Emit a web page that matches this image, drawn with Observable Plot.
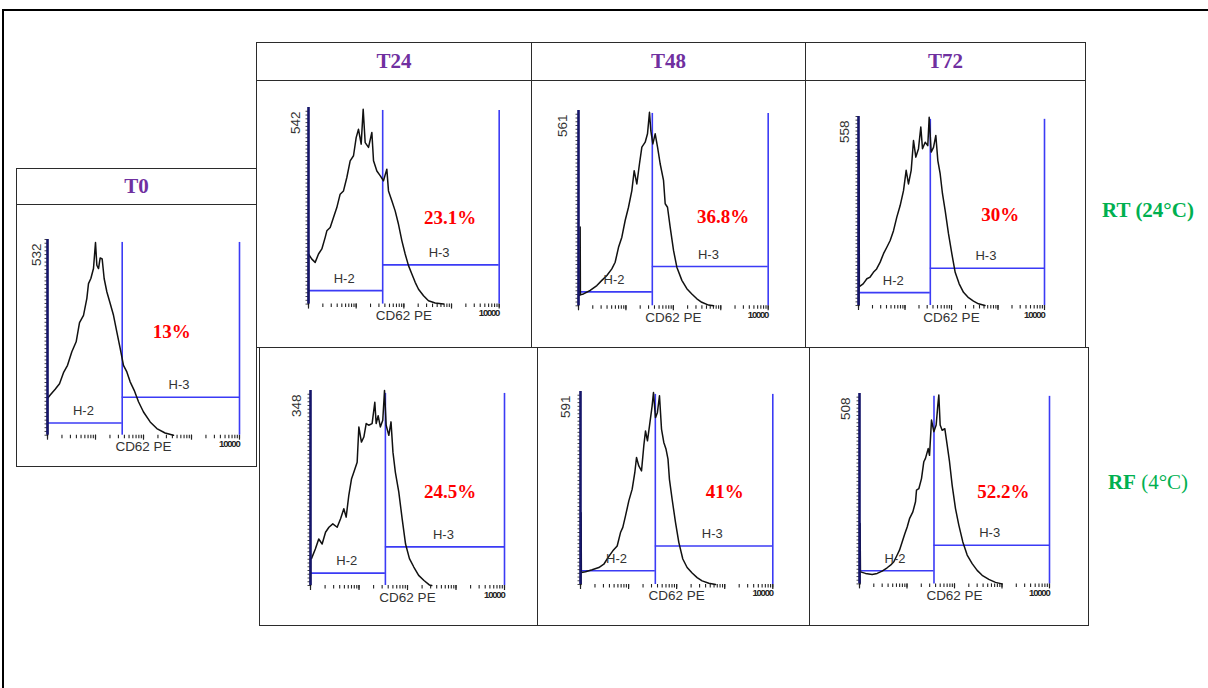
<!DOCTYPE html>
<html><head><meta charset="utf-8">
<script src="https://cdn.jsdelivr.net/npm/d3@7"></script>
<script src="https://cdn.jsdelivr.net/npm/@observablehq/plot@0.6"></script>
<style>
body{margin:0;background:#fff;}
#page{position:relative;width:1208px;height:688px;overflow:hidden;background:#fff;}
.box{position:absolute;border:1px solid #2b2b2b;box-sizing:border-box;}
.hdr{position:absolute;display:flex;align-items:center;justify-content:center;font-family:"Liberation Serif","Times New Roman",serif;font-weight:bold;font-size:21px;color:#7030A0;}
.rowlab{position:absolute;font-family:"Liberation Serif","Times New Roman",serif;font-size:21px;color:#00B050;white-space:nowrap;transform:translate(-50%,-50%);}
.panel{position:absolute;}
</style></head>
<body><div id="page"></div>
<script>
// ---------- data ----------
const timeHeaders = ["T24", "T48", "T72"];
const conditionLabels = [["RT", " (24°C)"], ["RF", " (4°C)"]];
const panelNames = ["T0", "RT T24", "RT T48", "RT T72", "RF T24", "RF T48", "RF T72"];
const maxCounts = [532, 542, 561, 558, 348, 591, 508];
const pctH3 = ["13%", "23.1%", "36.8%", "30%", "24.5%", "41%", "52.2%"];
const gateEdge = [36, 36, 36, 35, 35, 36, 37];      // H-2 / H-3 boundary (CD62 PE)
const h2Level = [33, 37, 40, 38, 22, 42, 35];       // marker bar heights (counts)
const h3Level = [103, 108, 113, 110, 69, 118, 103];
const xAxisLabel = "CD62 PE";
const xMaxLabel = "10000";

// histogram curves: [log10(CD62 PE), count]
const curveT0 = [[0,0],[0,100],[0.056,109],[0.16,125],[0.25,140],[0.333,170],[0.417,190],[0.507,227],[0.597,254],[0.667,306],[0.75,326],[0.82,372],[0.854,412],[0.903,426],[0.958,453],[1.0,524],[1.028,462],[1.063,453],[1.097,482],[1.139,479],[1.18,426],[1.236,390],[1.306,358],[1.375,326],[1.444,281],[1.514,236],[1.583,190],[1.653,172],[1.722,145],[1.806,122],[1.896,91],[2.0,63],[2.139,36],[2.278,18],[2.45,6],[2.625,0]];
const curveRT24 = [[0,0],[0,138],[0.07,124],[0.14,115],[0.21,138],[0.28,152],[0.35,184],[0.385,202],[0.455,211],[0.524,239],[0.594,266],[0.664,303],[0.734,312],[0.804,349],[0.874,395],[0.944,409],[1.0,459],[1.049,482],[1.105,441],[1.147,537],[1.189,445],[1.259,432],[1.329,473],[1.364,395],[1.434,367],[1.503,354],[1.573,340],[1.643,372],[1.678,312],[1.748,285],[1.818,257],[1.888,220],[1.958,175],[2.028,138],[2.098,106],[2.168,83],[2.238,60],[2.308,41],[2.413,23],[2.517,9],[2.657,3],[2.832,0]];
const curveRT48 = [[0,0],[0,30],[0.03,30],[0.035,226],[0.04,32],[0.105,34],[0.246,44],[0.387,58],[0.492,73],[0.598,87],[0.703,106],[0.773,125],[0.844,168],[0.914,197],[0.984,245],[1.054,283],[1.125,331],[1.174,388],[1.23,350],[1.286,408],[1.336,456],[1.406,470],[1.455,494],[1.497,556],[1.525,503],[1.568,465],[1.617,494],[1.667,456],[1.722,408],[1.793,360],[1.828,293],[1.877,283],[1.933,226],[2.004,159],[2.074,111],[2.18,73],[2.285,49],[2.39,34],[2.496,20],[2.6,10],[2.742,2],[2.85,0]];
const curveRT72 = [[0.01,0],[0.012,458],[0.018,56],[0.1,64],[0.18,79],[0.25,84],[0.32,98],[0.39,108],[0.466,128],[0.538,153],[0.609,172],[0.681,192],[0.753,221],[0.824,261],[0.896,295],[0.968,339],[1.025,399],[1.075,359],[1.133,399],[1.183,487],[1.233,438],[1.29,463],[1.34,527],[1.376,463],[1.434,482],[1.49,472],[1.52,556],[1.563,453],[1.613,467],[1.663,502],[1.706,428],[1.756,389],[1.806,330],[1.864,280],[1.935,212],[2.007,153],[2.079,98],[2.165,64],[2.258,39],[2.366,23],[2.473,13],[2.58,5],[2.72,0]];
const curveRF24 = [[0,0],[0,48],[0.02,48],[0.1,65],[0.17,83],[0.24,74],[0.31,95],[0.38,104],[0.46,110],[0.55,104],[0.62,119],[0.687,137],[0.735,122],[0.79,161],[0.845,190],[0.893,202],[0.962,220],[0.997,283],[1.05,256],[1.1,265],[1.148,289],[1.2,286],[1.27,289],[1.326,327],[1.354,289],[1.395,303],[1.44,283],[1.49,295],[1.526,348],[1.56,286],[1.615,268],[1.66,292],[1.7,238],[1.75,202],[1.82,167],[1.89,119],[1.96,74],[2.04,48],[2.13,33],[2.23,18],[2.34,9],[2.45,1],[2.5,0]];
const curveRF48 = [[0.01,0],[0.012,220],[0.018,37],[0.104,39],[0.243,45],[0.381,52],[0.485,62],[0.575,83],[0.672,103],[0.763,118],[0.832,159],[0.88,175],[0.936,210],[1.005,256],[1.075,292],[1.13,343],[1.165,389],[1.213,363],[1.269,348],[1.317,425],[1.352,470],[1.393,440],[1.435,486],[1.49,547],[1.518,588],[1.56,511],[1.6,527],[1.643,578],[1.685,476],[1.733,435],[1.78,414],[1.82,384],[1.85,322],[1.906,261],[1.976,190],[2.045,129],[2.128,78],[2.218,52],[2.322,35],[2.426,21],[2.53,11],[2.67,4],[2.81,0]];
const curveRF72 = [[0.01,0],[0.012,161],[0.02,32],[0.126,28],[0.267,25],[0.372,28],[0.477,34],[0.582,43],[0.653,50],[0.723,59],[0.793,77],[0.842,90],[0.898,112],[0.954,134],[1.004,152],[1.053,174],[1.123,192],[1.179,219],[1.2,250],[1.249,254],[1.305,281],[1.354,326],[1.389,335],[1.446,361],[1.474,343],[1.516,437],[1.565,406],[1.614,424],[1.649,477],[1.67,504],[1.698,424],[1.74,410],[1.796,414],[1.846,370],[1.895,326],[1.951,263],[2.021,201],[2.091,157],[2.175,112],[2.267,77],[2.372,54],[2.477,36],[2.582,23],[2.723,12],[2.863,4],[3.0,0]];
const curves = [curveT0, curveRT24, curveRT48, curveRT72, curveRF24, curveRF48, curveRF72];

// ---------- layout ----------
const frames = [
  {l:46.7, r:238.7, t:239, b:434.7},
  {l:308, r:498.7, t:106.7, b:303.3},
  {l:578.3, r:768, t:110, b:305.3},
  {l:858.3, r:1044.3, t:116, b:305},
  {l:309.7, r:503.7, t:390, b:585},
  {l:580, r:772.3, t:390.7, b:583.7},
  {l:859, r:1049, t:393.3, b:583.7}
];
const pctPos = [[2.59,282],[2.97,238],[3.05,255],[3.05,266],[2.88,167],[3.0,282],[3.03,245]];
const maxLabelDx = [-11, -13, -16, -14, -14, -15, -14];

const page = document.getElementById("page");
function box(x, y, w, h, extra) {
  const d = document.createElement("div");
  d.className = "box";
  Object.assign(d.style, {left: x + "px", top: y + "px", width: w + "px", height: h + "px"}, extra || {});
  page.appendChild(d);
  return d;
}
function header(x, y, w, h, txt) {
  const d = box(x, y, w, h);
  d.classList.add("hdr");
  d.textContent = txt;
}
// outer frame
box(2, 9, 1300, 800, {border: "2px solid #000"});
// T0 panel
header(16, 168, 241, 37, "T0");
box(16, 204, 241, 263);
// grid header row
const hdrX = [256, 531, 805, 1085];
timeHeaders.forEach((t, i) => header(hdrX[i], 42, hdrX[i + 1] - hdrX[i] + 1, 39, t));
hdrX.slice(0, 3).forEach((x, i) => box(x, 80, hdrX[i + 1] - x + 1, 268));
const botX = [259, 537, 809, 1088];
botX.slice(0, 3).forEach((x, i) => box(x, 347, botX[i + 1] - x + 1, 279));
// row labels
const rowY = [210, 482];
conditionLabels.forEach(([a, b], i) => {
  const d = document.createElement("div");
  d.className = "rowlab";
  d.style.left = "1148px"; d.style.top = rowY[i] + "px";
  d.innerHTML = i === 0 ? `<b>${a}${b}</b>` : `<b>${a}</b>${b}`;
  page.appendChild(d);
});

// ---------- histogram panels ----------
const minorTicks = [];
for (let e = 0; e < 4; e++) for (let m = 1; m < 10; m++) minorTicks.push(m * 10 ** e);
minorTicks.push(10000);
const decadeTicks = [1, 10, 100, 1000, 10000];
const blue = "#3b3bf5";

curves.forEach((curve, i) => {
  const f = frames[i];
  const mL = 44, mR = 24, mT = 24, mB = 28;
  const w = f.r - f.l + mL + mR, h = f.b - f.t + mT + mB;
  const max = maxCounts[i];
  const topG = max * 0.985;
  const pts = curve.map(([lg, c]) => ({x: 10 ** lg, y: c}));
  const yTicks = d3.range(0, max, max / 52);
  const svg = Plot.plot({
    width: w, height: h,
    marginLeft: mL, marginRight: mR, marginTop: mT, marginBottom: mB,
    x: {type: "log", domain: [1, 10000]},
    y: {domain: [0, max]},
    style: {background: "transparent", overflow: "visible", fontFamily: "'Liberation Sans', Arial, sans-serif"},
    marks: [
      Plot.axisX({ticks: minorTicks, tickSize: 3.5, tickFormat: () => "", stroke: "#222", strokeWidth: 1.1, label: null}),
      Plot.axisX({ticks: decadeTicks, tickSize: 5, tickFormat: () => "", stroke: "#222", strokeWidth: 1.2, label: null}),
      Plot.axisY({ticks: yTicks, tickSize: 2.5, tickFormat: () => "", stroke: "#444", label: null}),
      Plot.ruleY([{y: h2Level[i], x1: 1, x2: gateEdge[i]}], {y: "y", x1: "x1", x2: "x2", stroke: blue, strokeWidth: 1.6}),
      Plot.ruleY([{y: h3Level[i], x1: gateEdge[i], x2: 10000}], {y: "y", x1: "x1", x2: "x2", stroke: blue, strokeWidth: 1.6}),
      Plot.ruleX([gateEdge[i], 10000], {y1: 0, y2: topG, stroke: blue, strokeWidth: 1.6}),
      Plot.line(pts, {x: "x", y: "y", stroke: "#111", strokeWidth: 1.5}),
      Plot.ruleX([1], {stroke: "#15156a", strokeWidth: 2.6}),
      Plot.text([{x: 5.6, y: h2Level[i], t: "H-2"}, {x: 550, y: h3Level[i], t: "H-3"}],
        {x: "x", y: "y", text: "t", dy: -12, fontSize: 13, fill: "#333"}),
      Plot.text([String(max)], {text: d => d, frameAnchor: "top-left", rotate: -90, textAnchor: "end", lineAnchor: "middle", dx: maxLabelDx[i], dy: 4, fontSize: 13.5, fill: "#333"}),
      Plot.text([xAxisLabel], {text: d => d, frameAnchor: "bottom", dy: 16, fontSize: 13.5, fill: "#333"}),
      Plot.text([xMaxLabel], {text: d => d, frameAnchor: "bottom-right", dy: 12, fontSize: 9.5, fontWeight: "bold", fill: "#222"}),
      Plot.text([{x: 10 ** pctPos[i][0], y: pctPos[i][1], t: pctH3[i]}],
        {x: "x", y: "y", text: "t", fill: "#ff0000", fontWeight: "bold", fontSize: 19, fontFamily: "'Liberation Serif', 'Times New Roman', serif"})
    ]
  });
  svg.classList.add("panel");
  svg.style.left = (f.l - mL) + "px";
  svg.style.top = (f.t - mT) + "px";
  svg.setAttribute("aria-label", panelNames[i]);
  d3.select(svg).selectAll("text").filter(function () { return this.textContent === xMaxLabel; }).attr("letter-spacing", -1.2);
  page.appendChild(svg);
});
</script>
</body></html>
